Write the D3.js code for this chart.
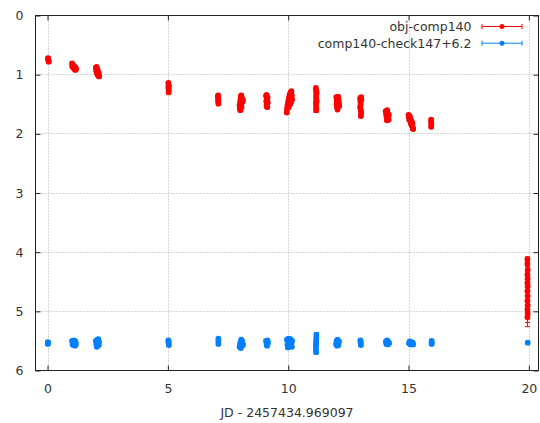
<!DOCTYPE html>
<html>
<head>
<meta charset="utf-8">
<script src="https://cdn.jsdelivr.net/npm/d3@7/dist/d3.min.js"></script>
<style>
  html, body { margin: 0; padding: 0; background: #fff; }
  svg { display: block; }
  text { font-family: "DejaVu Sans", sans-serif; font-size: 12.5px; fill: #333; }
</style>
</head>
<body>
<svg id="chart" width="540" height="423"></svg>
<script>
// Axis ticks
const xTicks = [0, 5, 10, 15, 20];
const yTicks = [0, 1, 2, 3, 4, 5, 6];
const xLabel = "JD - 2457434.969097";

// Series names
const seriesNames = ["obj-comp140", "comp140-check147+6.2"];
const seriesColors = ["#ff0000", "#0080ff"];

// obj-comp140: JD offset, magnitude difference, error
const objJD = [
  0.02, 0.03, 0.04, 0.05,
  1.02, 1.03, 1.05, 1.07, 1.09, 1.11, 1.13, 1.15, 1.17, 1.18,
  2.01, 2.02, 2.04, 2.05, 2.07, 2.08, 2.10, 2.12, 2.13, 2.14,
  5.02, 5.03, 5.02, 5.04, 5.03, 5.04,
  7.09, 7.09, 7.09, 7.10, 7.08, 7.10,
  7.99, 7.98, 8.00, 8.02, 8.03, 8.05, 8.08, 8.10, 8.12, 8.04, 8.01, 8.06,
  9.08, 9.10, 9.12, 9.09, 9.11, 9.13, 9.15, 9.14, 9.10,
  9.94, 9.95, 9.97, 9.99, 10.01, 10.03, 10.05, 10.07, 10.10, 10.13, 10.15, 10.16, 10.12, 10.08, 10.02,
  11.15, 11.16, 11.17, 11.16, 11.17, 11.15, 11.16, 11.17, 11.16, 11.18, 11.18,
  12.00, 12.02, 12.01, 12.03, 12.05, 12.07, 12.09, 12.11, 12.12, 12.06,
  12.99, 13.00, 13.01, 12.99, 13.02, 13.03, 13.02, 13.04, 13.03,
  14.05, 14.07, 14.09, 14.11, 14.13, 14.15, 14.17, 14.18, 14.10,
  15.00, 15.02, 15.03, 15.05, 15.07, 15.08, 15.10, 15.12, 15.14, 15.16, 15.18, 15.19,
  15.94, 15.94, 15.95, 15.94,
  19.94, 19.94, 19.95, 19.94, 19.95, 19.94, 19.95, 19.94, 19.95, 19.94, 19.95, 19.94, 19.95, 19.94
];
const objMag = [
  0.72, 0.74, 0.76, 0.78,
  0.81, 0.86, 0.83, 0.88, 0.85, 0.90, 0.87, 0.92, 0.89, 0.91,
  0.88, 0.93, 0.87, 0.97, 0.91, 1.00, 0.95, 1.02, 0.98, 1.03,
  1.14, 1.18, 1.22, 1.26, 1.30, 1.20,
  1.35, 1.40, 1.45, 1.49, 1.37, 1.43,
  1.57, 1.52, 1.47, 1.42, 1.37, 1.35, 1.40, 1.46, 1.43, 1.51, 1.60, 1.55,
  1.36, 1.34, 1.40, 1.45, 1.50, 1.55, 1.47, 1.38, 1.53,
  1.64, 1.58, 1.52, 1.48, 1.44, 1.40, 1.36, 1.33, 1.30, 1.28, 1.35, 1.42, 1.46, 1.50, 1.55,
  1.23, 1.28, 1.33, 1.38, 1.43, 1.48, 1.53, 1.58, 1.60, 1.30, 1.45,
  1.38, 1.44, 1.50, 1.55, 1.59, 1.37, 1.42, 1.48, 1.53, 1.46,
  1.40, 1.45, 1.50, 1.55, 1.60, 1.65, 1.70, 1.42, 1.38,
  1.62, 1.67, 1.72, 1.60, 1.65, 1.70, 1.76, 1.68, 1.77,
  1.68, 1.72, 1.76, 1.70, 1.74, 1.79, 1.83, 1.78, 1.86, 1.82, 1.90, 1.92,
  1.76, 1.80, 1.84, 1.88,
  4.12, 4.20, 4.30, 4.38, 4.45, 4.52, 4.58, 4.66, 4.74, 4.82, 4.90, 4.97, 5.04, 5.10
];
const objErr = [
  0.02, 0.02, 0.02, 0.02,
  0.02, 0.02, 0.02, 0.02, 0.02, 0.02, 0.02, 0.02, 0.02, 0.02,
  0.02, 0.02, 0.02, 0.02, 0.02, 0.02, 0.02, 0.02, 0.02, 0.02,
  0.02, 0.02, 0.02, 0.02, 0.02, 0.02,
  0.02, 0.02, 0.02, 0.02, 0.02, 0.02,
  0.02, 0.02, 0.02, 0.02, 0.02, 0.02, 0.02, 0.02, 0.02, 0.02, 0.02, 0.02,
  0.02, 0.02, 0.02, 0.02, 0.02, 0.02, 0.02, 0.02, 0.02,
  0.02, 0.02, 0.02, 0.02, 0.02, 0.02, 0.02, 0.02, 0.02, 0.02, 0.02, 0.02, 0.02, 0.02, 0.02,
  0.04, 0.03, 0.03, 0.03, 0.03, 0.03, 0.03, 0.03, 0.04, 0.03, 0.03,
  0.02, 0.02, 0.02, 0.02, 0.02, 0.02, 0.02, 0.02, 0.02, 0.02,
  0.02, 0.02, 0.02, 0.02, 0.02, 0.02, 0.02, 0.02, 0.02,
  0.02, 0.02, 0.02, 0.02, 0.02, 0.02, 0.02, 0.02, 0.02,
  0.02, 0.02, 0.02, 0.02, 0.02, 0.02, 0.02, 0.02, 0.02, 0.02, 0.02, 0.02,
  0.02, 0.02, 0.02, 0.02,
  0.04, 0.04, 0.05, 0.05, 0.05, 0.06, 0.06, 0.07, 0.08, 0.09, 0.10, 0.12, 0.15, 0.16
];

// comp140-check147 (shifted by +6.2): JD offset, magnitude difference, error
const chkJD = [
  0.01, 0.01, 0.02,
  1.02, 1.04, 1.06, 1.08, 1.10, 1.12, 1.14, 1.16, 1.18,
  2.01, 2.03, 2.05, 2.07, 2.09, 2.11, 2.13, 2.14,
  5.02, 5.03, 5.04, 5.03,
  7.10, 7.10, 7.10,
  7.98, 8.00, 8.02, 8.05, 8.08, 8.10, 8.12, 8.03, 8.07,
  9.08, 9.10, 9.12, 9.14, 9.16,
  9.95, 9.97, 9.99, 10.01, 10.04, 10.07, 10.10, 10.13, 10.15, 10.16,
  11.17, 11.17, 11.16, 11.16, 11.15, 11.15, 11.16, 11.15,
  11.99, 12.01, 12.03, 12.05, 12.07, 12.09, 12.11,
  13.00, 13.01, 13.02, 13.01,
  14.06, 14.08, 14.11, 14.14, 14.17, 14.19,
  15.02, 15.05, 15.08, 15.11, 15.14, 15.17, 15.19,
  15.96, 15.96, 15.96,
  19.95
];
const chkMag = [
  5.52, 5.55, 5.53,
  5.50, 5.56, 5.52, 5.57, 5.49, 5.54, 5.58, 5.51, 5.55,
  5.50, 5.56, 5.60, 5.48, 5.53, 5.47, 5.57, 5.52,
  5.49, 5.53, 5.57, 5.51,
  5.46, 5.50, 5.55,
  5.60, 5.56, 5.52, 5.48, 5.50, 5.54, 5.57, 5.62, 5.58,
  5.50, 5.55, 5.58, 5.49, 5.53,
  5.48, 5.56, 5.61, 5.46, 5.52, 5.58, 5.47, 5.54, 5.60, 5.50,
  5.40, 5.45, 5.50, 5.55, 5.60, 5.65, 5.69, 5.58,
  5.55, 5.50, 5.58, 5.48, 5.53, 5.57, 5.51,
  5.49, 5.53, 5.57, 5.51,
  5.51, 5.55, 5.49, 5.56, 5.52, 5.54,
  5.54, 5.51, 5.56, 5.52, 5.55, 5.53, 5.56,
  5.50, 5.53, 5.55,
  5.53
];
const chkErr = [
  0.02, 0.02, 0.02,
  0.02, 0.02, 0.02, 0.02, 0.02, 0.02, 0.02, 0.02, 0.02,
  0.02, 0.02, 0.02, 0.02, 0.02, 0.02, 0.02, 0.02,
  0.02, 0.02, 0.02, 0.02,
  0.02, 0.02, 0.02,
  0.02, 0.02, 0.02, 0.02, 0.02, 0.02, 0.02, 0.02, 0.02,
  0.02, 0.02, 0.02, 0.02, 0.02,
  0.02, 0.02, 0.02, 0.02, 0.02, 0.02, 0.02, 0.02, 0.02, 0.02,
  0.04, 0.03, 0.03, 0.03, 0.03, 0.03, 0.03, 0.03,
  0.02, 0.02, 0.02, 0.02, 0.02, 0.02, 0.02,
  0.02, 0.02, 0.02, 0.02,
  0.02, 0.02, 0.02, 0.02, 0.02, 0.02,
  0.02, 0.02, 0.02, 0.02, 0.02, 0.02, 0.02,
  0.02, 0.02, 0.02,
  0.02
];

const series = [
  { name: seriesNames[0], color: seriesColors[0],
    points: objJD.map((x, i) => ({ x, y: objMag[i], e: objErr[i] })) },
  { name: seriesNames[1], color: seriesColors[1],
    points: chkJD.map((x, i) => ({ x, y: chkMag[i], e: chkErr[i] })) }
];

const svg = d3.select("#chart");
const plotLeft = 35.5, plotRight = 538.5, plotTop = 15.5, plotBottom = 370.5;

const x = d3.scaleLinear().domain([-0.5, 20.4]).range([plotLeft, plotRight]);
const y = d3.scaleLinear().domain([0, 6]).range([plotTop, plotBottom]);

// grid
const grid = svg.append("g").attr("stroke", "#aaaaaa").attr("stroke-width", 1)
  .attr("stroke-dasharray", "1,2").attr("fill", "none");
xTicks.forEach(t => {
  const px = Math.round(x(t)) + 0.5;
  grid.append("line").attr("x1", px).attr("x2", px).attr("y1", plotTop).attr("y2", plotBottom);
});
yTicks.filter(t => t > 0 && t < 6).forEach(t => {
  const py = Math.round(y(t) - 0.5) + 0.5;
  grid.append("line").attr("x1", plotLeft).attr("x2", plotRight).attr("y1", py).attr("y2", py);
});

// axes with mirrored inward ticks
const tickLen = 5;
const fmt = d3.format("d");
const xAxisB = d3.axisBottom(x).tickValues(xTicks).tickFormat(fmt).tickSize(-tickLen).tickPadding(14);
const xAxisT = d3.axisTop(x).tickValues(xTicks).tickSize(-tickLen).tickFormat("");
const yAxisL = d3.axisLeft(y).tickValues(yTicks).tickFormat(fmt).tickSize(-tickLen).tickPadding(12);
const yAxisR = d3.axisRight(y).tickValues(yTicks).tickSize(-tickLen).tickFormat("");

function styleAxis(g) {
  g.select(".domain").remove();
  g.selectAll(".tick line").attr("stroke", "#222");
  g.selectAll(".tick text").attr("fill", "#333")
    .style("font-family", '"DejaVu Sans", sans-serif').style("font-size", "12.5px");
}
svg.append("g").attr("transform", `translate(0,${plotBottom})`).call(xAxisB).call(styleAxis);
svg.append("g").attr("transform", `translate(0,${plotTop})`).call(xAxisT).call(styleAxis);
svg.append("g").attr("transform", `translate(${plotLeft},0)`).call(yAxisL).call(styleAxis);
svg.append("g").attr("transform", `translate(${plotRight},0)`).call(yAxisR).call(styleAxis);

// data: error bars and points
const capHalf = 2.5, radius = 2.9;
series.forEach(s => {
  const g = svg.append("g");
  const eb = g.append("g").attr("stroke", s.color).attr("stroke-width", 1);
  s.points.forEach(p => {
    const px = x(p.x);
    eb.append("line").attr("x1", px).attr("x2", px).attr("y1", y(p.y - p.e)).attr("y2", y(p.y + p.e));
    eb.append("line").attr("x1", px - capHalf).attr("x2", px + capHalf).attr("y1", y(p.y - p.e)).attr("y2", y(p.y - p.e));
    eb.append("line").attr("x1", px - capHalf).attr("x2", px + capHalf).attr("y1", y(p.y + p.e)).attr("y2", y(p.y + p.e));
  });
  g.selectAll("circle").data(s.points).join("circle")
    .attr("cx", d => x(d.x)).attr("cy", d => y(d.y)).attr("r", radius).attr("fill", s.color);
});

// border
svg.append("rect").attr("x", plotLeft).attr("y", plotTop)
  .attr("width", plotRight - plotLeft).attr("height", plotBottom - plotTop)
  .attr("fill", "none").attr("stroke", "#222").attr("stroke-width", 1);

// x label
svg.append("text").attr("x", (plotLeft + plotRight) / 2).attr("y", 417)
  .attr("text-anchor", "middle").text(xLabel);

// key
const key = svg.append("g");
series.forEach((s, i) => {
  const cy = 26.5 + i * 16.7;
  key.append("text").attr("x", 471.5).attr("y", cy + 4.5).attr("text-anchor", "end").text(s.name);
  const kg = key.append("g").attr("stroke", s.color).attr("stroke-width", 1);
  kg.append("line").attr("x1", 482).attr("x2", 522).attr("y1", cy).attr("y2", cy);
  kg.append("line").attr("x1", 482).attr("x2", 482).attr("y1", cy - 2.5).attr("y2", cy + 2.5);
  kg.append("line").attr("x1", 522).attr("x2", 522).attr("y1", cy - 2.5).attr("y2", cy + 2.5);
  key.append("circle").attr("cx", 502).attr("cy", cy).attr("r", 2.5).attr("fill", s.color);
});
</script>
</body>
</html>
